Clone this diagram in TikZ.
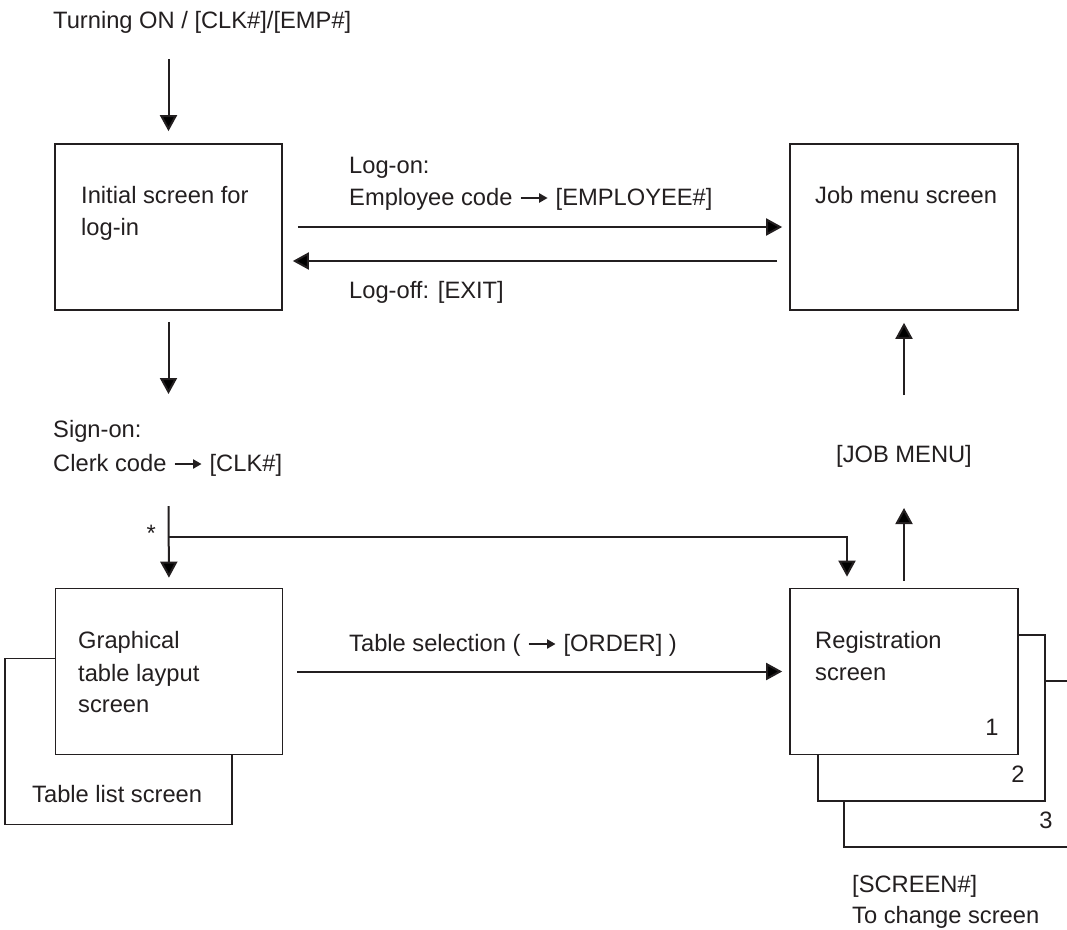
\documentclass[tikz,border=0pt]{standalone}
\usepackage{fontspec}
\setmainfont{Liberation Sans}
\usetikzlibrary{arrows.meta,calc}
\definecolor{ink}{HTML}{231F20}
\newcommand{\inarrow}{\hspace{0.3pt}\tikz[x=1pt,y=1pt,baseline=0pt]{\path (0,0) rectangle (27,1);\draw[draw=ink,fill=ink,line width=2.4pt,-{Triangle[width=9pt,length=8.5pt]}] (0,7) -- (27,7);}\hspace{0.3pt}}
\begin{document}
\begin{tikzpicture}[x=1pt,y=-1pt,
  font=\fontsize{23.7pt}{32pt}\selectfont,
  every node/.style={text=ink},
  scrbox/.style={draw=ink,fill=white,line width=1.7pt,rectangle,inner sep=0pt,minimum width=227pt,minimum height=166pt},
  txt/.style={anchor=base west,inner sep=0pt},
  ctxt/.style={anchor=base,inner sep=0pt},
  arr/.style={draw=ink,line width=2pt,-{Triangle[width=17pt,length=16pt]}}]
\clip (0,0) rectangle (1067,929);
\fill[white] (0,0) rectangle (1067,929);

% boxes (back ones first)
\node[scrbox] (tlist) at (118.5,741.5) {};
\node[scrbox] (graph) at (169,671.5) {};
\node[scrbox] (init) at (168.5,227) {};
\node[scrbox,minimum width=228pt] (job) at (904,227) {};
\node[scrbox] (reg3) at (957.5,764) {};
\node[scrbox] (reg2) at (931.5,718) {};
\node[scrbox,minimum width=228pt] (reg) at (904,671.5) {};

% texts
\node[txt] (t0) at (53,28) {Turning ON / [CLK\#]/[EMP\#]};
\node[txt] (i1) at (81,203) {Initial screen for};
\node[txt] (i2) at (81,235) {log-in};
\node[txt] (lo1) at (349,173) {Log-on:};
\node[txt] (lo2) at (349,205) {Employee code \inarrow{} [EMPLOYEE\#]};
\node[txt] (lf) at (349,298) {Log-off: [EXIT]};
\node[txt] (j1) at (815,203) {Job menu screen};
\node[txt] (s1) at (53,437) {Sign-on:};
\node[txt] (s2) at (53,471) {Clerk code \inarrow{} [CLK\#]};
\node[ctxt] (jm) at (904,462) {[JOB MENU]};
\node[txt] (star) at (146.5,541.5) {*};
\node[txt] (g1) at (78,648) {Graphical};
\node[txt] (g2) at (78,681) {table layput};
\node[txt] (g3) at (78,712) {screen};
\node[txt] (tl) at (32,802) {Table list screen};
\node[txt] (ts) at (349,651) {Table selection ( \inarrow{} [ORDER] )};
\node[txt] (r1) at (815,648) {Registration};
\node[txt] (r2) at (815,680) {screen};
\node[ctxt] (n1) at (992,735) {1};
\node[ctxt] (n2) at (1018,782) {2};
\node[ctxt] (n3) at (1046,828) {3};
\node[txt] (sc1) at (852,892) {[SCREEN\#]};
\node[txt] (sc2) at (852,923) {To change screen};

% connectors
\coordinate (top) at (168.5,59);
\coordinate (signon) at (168.5,394);
\coordinate (clk) at (168.5,506);
\coordinate (branch) at (168.5,537);
\coordinate (jmlow) at (904,508);
\coordinate (jmhigh) at (904,395);

\draw[arr,shorten >=12pt] (top) -- (init.north);
\draw[arr,shorten <=15pt,shorten >=7pt] (init.east) -- (job.west);
\draw[arr,shorten <=12pt,shorten >=10pt] ($(job.west)+(0,34)$) -- ($(init.east)+(0,34)$);
\draw[arr,shorten <=11pt] (init.south) -- (signon);
\draw[arr,shorten >=10pt] (clk) -- (graph.north);
\draw[arr,shorten >=11pt] (branch) -| ($(reg.north)+(-57,0)$);
\draw[arr,shorten <=7pt] (reg.north) -- (jmlow);
\draw[arr,shorten >=12pt] (jmhigh) -- (job.south);
\draw[arr,shorten <=14pt,shorten >=7pt] (graph.east) -- (reg.west);
\end{tikzpicture}
\end{document}
